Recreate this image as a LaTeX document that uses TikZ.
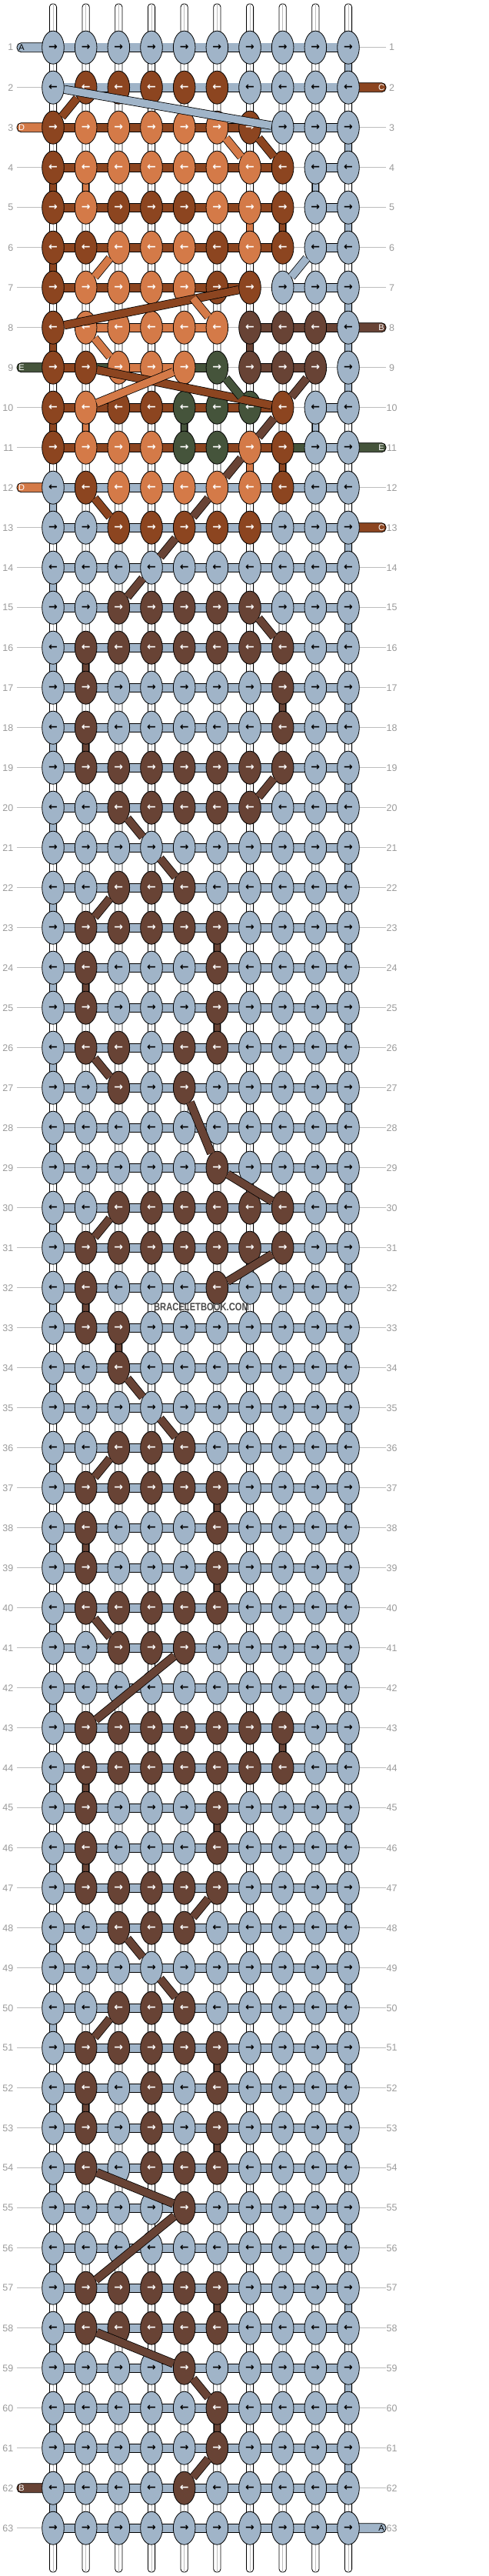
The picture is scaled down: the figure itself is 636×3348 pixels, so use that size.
\documentclass[tikz,border=0pt]{standalone}
\usepackage{fontspec}
\setmainfont{Liberation Sans}
\newfontfamily\arrowfont{DejaVu Sans}
\usetikzlibrary{shapes.geometric}
\definecolor{thA}{HTML}{A0B4C8}
\definecolor{thB}{HTML}{684335}
\definecolor{thC}{HTML}{8C4520}
\definecolor{thD}{HTML}{D47A48}
\definecolor{thE}{HTML}{45543B}
\definecolor{guide}{HTML}{BDBDBD}
\definecolor{rownum}{HTML}{9A9A9A}
\definecolor{mark}{HTML}{4A4A4A}
\pgfdeclarelayer{base}
\pgfdeclarelayer{threads}
\pgfsetlayers{base,threads,main}
\tikzset{
knot/.style={ellipse,draw=black,line width=0.8pt,minimum width=28.6pt,minimum height=43pt,inner sep=0pt,font=\arrowfont\bfseries\fontsize{14}{14}\selectfont},
kn-a/.style={fill=thA,text=black},
kn-b/.style={fill=thB,text=white},
kn-c/.style={fill=thC,text=white},
kn-d/.style={fill=thD,text=white},
kn-e/.style={fill=thE,text=white},
strand/.style={draw=black,line width=0.8pt,double distance=10.4pt},
vbar/.style={draw=black,line width=0.8pt,double distance=7.6pt},
diag/.style={draw=black,line width=0.8pt,double distance=9.6pt},
sg-a/.style={double=thA},
sg-b/.style={double=thB},
sg-c/.style={double=thC},
sg-d/.style={double=thD},
sg-e/.style={double=thE},
sg-n/.style={opacity=0},
rowline/.style={guide,line width=0.8pt},
rownr/.style={text=rownum,font=\fontsize{12.5}{12.5}\selectfont,inner sep=0pt},
endtag/.style={font=\fontsize{11}{11}\selectfont,inner sep=0pt}
}

\begin{document}
\begin{tikzpicture}[x=1pt,y=-1pt]
\useasboundingbox (0,0) rectangle (636,3348);

% knots, one list per row
\foreach \r/\row in {
1/{a,a,a,a,a,a,a,a,a,a}, 2/{a,c,c,c,c,c,a,a,a,a}, 3/{c,d,d,d,d,d,c,a,a,a},
4/{c,d,d,d,d,d,d,c,a,a}, 5/{c,d,c,c,c,d,d,c,a,a}, 6/{c,c,d,d,d,c,d,c,a,a},
7/{c,d,d,d,d,c,c,a,a,a}, 8/{c,d,d,d,d,d,b,b,b,a}, 9/{c,c,d,d,d,e,b,b,b,a},
10/{c,d,c,c,e,e,e,c,a,a}, 11/{c,d,d,d,e,e,d,c,a,a}, 12/{a,c,d,d,d,d,d,c,a,a},
13/{a,a,c,c,c,c,c,a,a,a}, 14/{a,a,a,a,a,a,a,a,a,a}, 15/{a,a,b,b,b,b,b,a,a,a},
16/{a,b,b,b,b,b,b,b,a,a}, 17/{a,b,a,a,a,a,a,b,a,a}, 18/{a,b,a,a,a,a,a,b,a,a},
19/{a,b,b,b,b,b,b,b,a,a}, 20/{a,a,b,b,b,b,b,a,a,a}, 21/{a,a,a,a,a,a,a,a,a,a},
22/{a,a,b,b,b,a,a,a,a,a}, 23/{a,b,b,b,b,b,a,a,a,a}, 24/{a,b,a,a,a,b,a,a,a,a},
25/{a,b,a,a,a,b,a,a,a,a}, 26/{a,b,b,a,b,b,a,a,a,a}, 27/{a,a,b,a,b,a,a,a,a,a},
28/{a,a,a,a,a,a,a,a,a,a}, 29/{a,a,a,a,a,b,a,a,a,a}, 30/{a,a,b,b,b,b,b,b,a,a},
31/{a,b,b,b,b,b,b,b,a,a}, 32/{a,b,a,a,a,b,a,a,a,a}, 33/{a,b,b,a,a,a,a,a,a,a},
34/{a,a,b,a,a,a,a,a,a,a}, 35/{a,a,a,a,a,a,a,a,a,a}, 36/{a,a,b,b,b,a,a,a,a,a},
37/{a,b,b,b,b,b,a,a,a,a}, 38/{a,b,a,a,a,b,a,a,a,a}, 39/{a,b,a,a,a,b,a,a,a,a},
40/{a,b,b,b,b,b,a,a,a,a}, 41/{a,a,b,b,b,a,a,a,a,a}, 42/{a,a,a,a,a,a,a,a,a,a},
43/{a,b,b,b,b,b,b,b,a,a}, 44/{a,b,b,b,b,b,b,b,a,a}, 45/{a,b,a,a,a,b,a,a,a,a},
46/{a,b,a,a,a,b,a,a,a,a}, 47/{a,b,b,b,b,b,a,a,a,a}, 48/{a,a,b,b,b,a,a,a,a,a},
49/{a,a,a,a,a,a,a,a,a,a}, 50/{a,a,b,b,b,a,a,a,a,a}, 51/{a,b,b,b,b,b,a,a,a,a},
52/{a,b,a,b,a,b,a,a,a,a}, 53/{a,b,a,b,a,b,a,a,a,a}, 54/{a,b,a,b,b,b,a,a,a,a},
55/{a,a,a,a,b,a,a,a,a,a}, 56/{a,a,a,a,a,a,a,a,a,a}, 57/{a,b,b,b,b,b,a,a,a,a},
58/{a,b,b,b,b,b,a,a,a,a}, 59/{a,a,a,a,b,a,a,a,a,a}, 60/{a,a,a,a,a,b,a,a,a,a},
61/{a,a,a,a,a,b,a,a,a,a}, 62/{a,a,a,a,b,a,a,a,a,a}, 63/{a,a,a,a,a,a,a,a,a,a}}
  \foreach \t [count=\c] in \row
    \node[knot,kn-\t] (k-\r-\c) at ({69+42.667*(\c-1)},{61.7+52*(\r-1)}) {\ifodd\r →\else ←\fi};

% guide lines, row numbers, base strings
\begin{pgfonlayer}{base}
\foreach \r in {1,...,63}{
  \draw[rowline] (22,{61.7+52*(\r-1)}) -- (502,{61.7+52*(\r-1)});
  \node[rownr,anchor=east] (nl-\r) at (17.5,{61.7+52*(\r-1)}) {\r};
  \node[rownr] (nr-\r) at (509.5,{61.7+52*(\r-1)}) {\r};
}
\foreach \c in {1,...,10}{
  \coordinate (top-\c) at ({69+42.667*(\c-1)},5);
  \coordinate (bot-\c) at ({69+42.667*(\c-1)},3343);
  \draw[fill=white,line width=0.8pt,rounded corners=4pt] ([xshift=-4.6pt]top-\c) rectangle ([xshift=4.6pt]bot-\c);
  \draw[guide,line width=0.5pt] (top-\c) -- (bot-\c);
}
\end{pgfonlayer}

\begin{pgfonlayer}{threads}
% rows knotted with A all the way
\foreach \r in {1,2,12,13,...,63}
  \draw[strand,sg-a] (k-\r-1.center) -- (k-\r-10.center);
% mixed rows
\foreach \r/\segs in {3/{c,c,c,c,c,c,a,a,a}, 4/{c,c,c,c,c,c,c,n,a},
  5/{c,c,c,c,c,c,c,n,a}, 6/{c,c,c,c,c,c,c,n,a}, 7/{c,c,c,c,c,c,n,a,a},
  8/{n,d,d,d,d,n,b,b,b}, 9/{c,e,d,d,e,n,b,b,n}, 10/{c,c,c,c,c,c,c,n,a},
  11/{c,c,c,c,c,c,c,e,a}}
  \foreach \s [count=\c] in \segs {
    \pgfmathtruncatemacro\cn{\c+1}
    \draw[strand,sg-\s] (k-\r-\c.center) -- (k-\r-\cn.center);
  }
% loose ends
\foreach \r/\lbl/\tc in {1/A/black, 3/D/white, 9/E/white, 12/D/white, 62/B/white}{
  \coordinate (le-\r) at (22,{61.7+52*(\r-1)});
  \draw[fill=th\lbl,line width=0.8pt,rounded corners=5.5pt] ([yshift=6pt]le-\r) rectangle ([yshift=-6pt]k-\r-1.center);
  \node[endtag,text=\tc] (lt-\r) at ([xshift=6pt]le-\r) {\lbl};
}
\foreach \r/\lbl/\tc in {2/C/white, 8/B/white, 11/E/white, 13/C/white, 63/A/black}{
  \coordinate (re-\r) at (502,{61.7+52*(\r-1)});
  \draw[fill=th\lbl,line width=0.8pt,rounded corners=5.5pt] ([yshift=6pt]k-\r-10.center) rectangle ([yshift=-6pt]re-\r);
  \node[endtag,text=\tc] (rt-\r) at ([xshift=-6pt]re-\r) {\lbl};
}
% turns and straight drops
\foreach \r in {13,15,...,61}
  \draw[vbar,sg-a] (k-\r-10.center) -- (k-\the\numexpr\r+1\relax-10.center);
\foreach \r in {12,14,...,62}
  \draw[vbar,sg-a] (k-\r-1.center) -- (k-\the\numexpr\r+1\relax-1.center);
\foreach \r/\c/\t in {1/10/a, 3/10/a, 4/1/c, 4/2/d, 4/9/a, 5/7/d, 5/8/c, 5/10/a,
  6/1/c, 7/10/a, 8/1/c, 8/7/b, 8/10/a, 9/10/a, 10/1/c, 10/2/d, 10/5/e, 10/9/a,
  11/7/d, 11/8/c, 16/2/b, 17/8/b, 18/2/b, 23/6/b, 24/2/b, 25/6/b, 32/2/b, 33/3/b,
  37/6/b, 38/2/b, 39/6/b, 43/8/b, 44/2/b, 45/6/b, 46/2/b, 51/6/b, 52/2/b, 53/6/b,
  57/6/b, 60/6/b}
  \draw[vbar,sg-\t] (k-\r-\c.center) -- (k-\the\numexpr\r+1\relax-\c.center);
\end{pgfonlayer}

% carried threads, knot to knot
\foreach \t/\ra/\ca/\rb/\cb in {a/2/1/3/8, c/3/1/2/2, d/3/6/4/7, c/3/7/4/8,
  d/7/2/6/3, a/6/9/7/8, c/8/1/7/7, d/7/5/8/6, d/8/2/9/3, c/9/2/10/8, d/9/5/10/2,
  e/9/6/10/7, b/9/9/10/8, b/10/8/11/7, b/11/7/12/6, b/12/6/13/5, b/13/5/14/4,
  b/14/4/15/3, c/12/2/13/3, b/15/7/16/8, b/19/8/20/7, b/20/3/21/4, b/21/4/22/5,
  b/22/3/23/2, b/26/2/27/3, b/27/5/29/6, b/29/6/30/8, b/30/3/31/2, b/31/8/32/6,
  b/34/3/35/4, b/35/4/36/5, b/36/3/37/2, b/40/2/41/3, b/41/5/43/2, b/47/6/48/5,
  b/48/3/49/4, b/49/4/50/5, b/50/3/51/2, b/54/2/55/5, b/55/5/57/2, b/58/2/59/5,
  b/59/5/60/6, b/61/6/62/5}
  \draw[diag,sg-\t] (k-\ra-\ca) -- (k-\rb-\cb);

\node[text=mark,font=\bfseries\fontsize{14}{14}\selectfont,inner sep=0pt] (wm) at (262,1699) {\scalebox{0.8}[1]{BRACELETBOOK.COM}};
\end{tikzpicture}
\end{document}
